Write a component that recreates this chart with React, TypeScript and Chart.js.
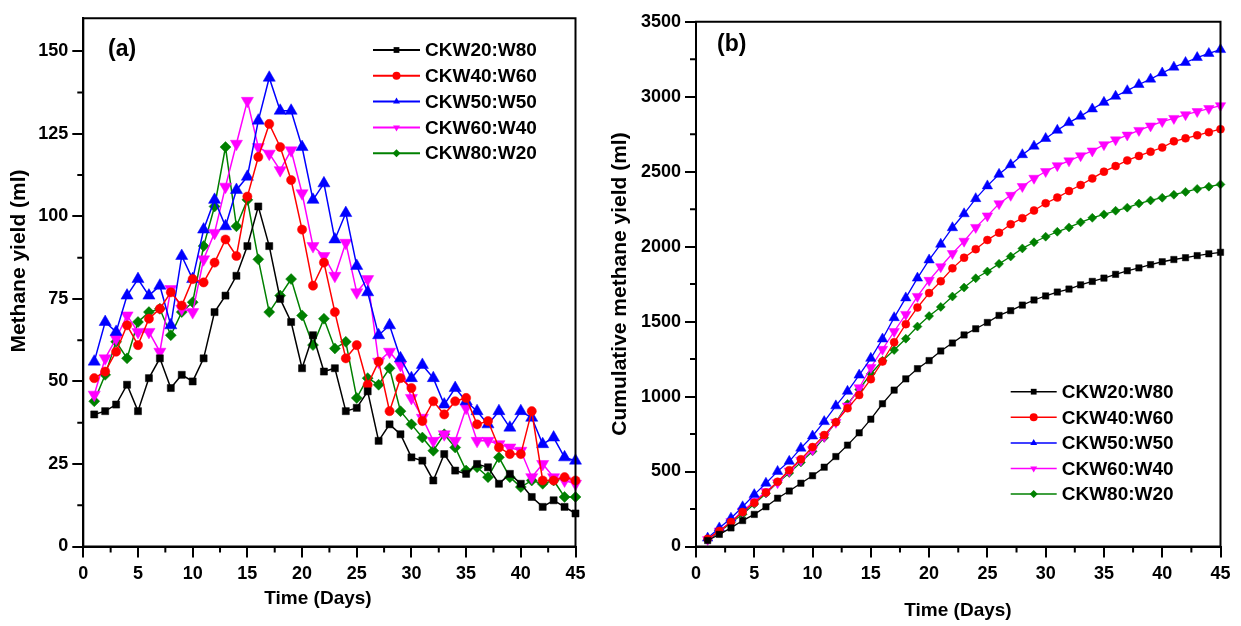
import React, { useEffect, useRef } from 'react';
import { Chart, registerables } from 'chart.js';

Chart.register(...registerables);

// ---------- data ----------
const days = [1, 2, 3, 4, 5, 6, 7, 8, 9, 10, 11, 12, 13, 14, 15, 16, 17, 18, 19, 20, 21, 22, 23, 24, 25, 26, 27, 28, 29, 30, 31, 32, 33, 34, 35, 36, 37, 38, 39, 40, 41, 42, 43, 44, 45];
const seriesNames = ['CKW20:W80', 'CKW40:W60', 'CKW50:W50', 'CKW60:W40', 'CKW80:W20'];

// (a) daily methane yield (ml)
const daily20 = [40, 41, 43, 49, 41, 51, 57, 48, 52, 50, 57, 71, 76, 82, 91, 103, 91, 75, 68, 54, 64, 53, 54, 41, 42, 47, 32, 37, 34, 27, 26, 20, 28, 23, 22, 25, 24, 19, 22, 19, 15, 12, 14, 12, 10];
const daily40 = [51, 53, 59, 67, 61, 69, 72, 77, 73, 81, 80, 86, 93, 88, 106, 118, 128, 121, 111, 96, 79, 86, 71, 57, 61, 49, 56, 41, 51, 48, 38, 44, 40, 44, 45, 37, 38, 30, 28, 28, 41, 20, 20, 21, 20];
const daily50 = [56, 68, 65, 76, 81, 76, 79, 67, 88, 81, 96, 105, 97, 108, 112, 129, 142, 132, 132, 121, 105, 110, 93, 101, 85, 77, 64, 67, 57, 51, 55, 51, 43, 48, 44, 41, 37, 41, 36, 41, 39, 31, 33, 27, 26];
const daily60 = [46, 57, 63, 70, 65, 65, 59, 78, 72, 71, 87, 95, 109, 122, 135, 121, 119, 114, 120, 107, 91, 88, 82, 92, 77, 81, 56, 59, 55, 45, 39, 32, 34, 32, 42, 32, 32, 31, 30, 29, 21, 25, 21, 20, 19];
const daily80 = [44, 52, 62, 57, 68, 71, 72, 64, 71, 74, 91, 103, 121, 97, 105, 87, 71, 76, 81, 70, 61, 69, 60, 62, 45, 51, 49, 54, 41, 37, 33, 29, 34, 30, 23, 24, 21, 27, 21, 18, 20, 19, 20, 15, 15];

// (b) cumulative methane yield (ml)
const cum20 = [40, 81, 124, 173, 214, 265, 322, 370, 422, 472, 529, 600, 676, 758, 849, 952, 1043, 1118, 1186, 1240, 1304, 1357, 1411, 1452, 1494, 1541, 1573, 1610, 1644, 1671, 1697, 1717, 1745, 1768, 1790, 1815, 1839, 1858, 1880, 1899, 1914, 1926, 1940, 1952, 1962];
const cum40 = [51, 104, 163, 230, 291, 360, 432, 509, 582, 663, 743, 829, 922, 1010, 1116, 1234, 1362, 1483, 1594, 1690, 1769, 1855, 1926, 1983, 2044, 2093, 2149, 2190, 2241, 2289, 2327, 2371, 2411, 2455, 2500, 2537, 2575, 2605, 2633, 2661, 2702, 2722, 2742, 2763, 2783];
const cum50 = [56, 124, 189, 265, 346, 422, 501, 568, 656, 737, 833, 938, 1035, 1143, 1255, 1384, 1526, 1658, 1790, 1911, 2016, 2126, 2219, 2320, 2405, 2482, 2546, 2613, 2670, 2721, 2776, 2827, 2870, 2918, 2962, 3003, 3040, 3081, 3117, 3158, 3197, 3228, 3261, 3288, 3314];
const cum60 = [46, 103, 166, 236, 301, 366, 425, 503, 575, 646, 733, 828, 937, 1059, 1194, 1315, 1434, 1548, 1668, 1775, 1866, 1954, 2036, 2128, 2205, 2286, 2342, 2401, 2456, 2501, 2540, 2572, 2606, 2638, 2680, 2712, 2744, 2775, 2805, 2834, 2855, 2880, 2901, 2921, 2940];
const cum80 = [44, 96, 158, 215, 283, 354, 426, 490, 561, 635, 726, 829, 950, 1047, 1152, 1239, 1310, 1386, 1467, 1537, 1598, 1667, 1727, 1789, 1834, 1885, 1934, 1988, 2029, 2066, 2099, 2128, 2162, 2192, 2215, 2239, 2260, 2287, 2308, 2326, 2346, 2365, 2385, 2400, 2415];

// ticks
const xMajorTicks = [0, 5, 10, 15, 20, 25, 30, 35, 40, 45];
const xMinorTicks = [2.5, 7.5, 12.5, 17.5, 22.5, 27.5, 32.5, 37.5, 42.5];
const yMajorTicksA = [0, 25, 50, 75, 100, 125, 150];
const yMinorTicksA = [12.5, 37.5, 62.5, 87.5, 112.5, 137.5];
const yMajorTicksB = [0, 500, 1000, 1500, 2000, 2500, 3000, 3500];
const yMinorTicksB = [250, 750, 1250, 1750, 2250, 2750, 3250];

// ---------- styles ----------
const FONT = "'Liberation Sans', Arial, Helvetica, sans-serif";
const colors = ['#000000', '#ff0000', '#0000ff', '#ff00ff', '#008000'];
const pointStyles = ['rect', 'circle', 'triangle', 'triangle', 'rectRot'];
const rotations = [0, 0, 0, 180, 0];

function drawMarker(ctx: CanvasRenderingContext2D, style: string, rot: number, x: number, y: number, r: number, color: string) {
  ctx.fillStyle = color;
  ctx.beginPath();
  if (style === 'rect') {
    const s = r * 0.72;
    ctx.rect(x - s, y - s, 2 * s, 2 * s);
  } else if (style === 'circle') {
    ctx.arc(x, y, r, 0, Math.PI * 2);
  } else if (style === 'triangle') {
    const d = rot === 180 ? -1 : 1;
    ctx.moveTo(x, y - d * r);
    ctx.lineTo(x + r * 0.866, y + d * r * 0.5);
    ctx.lineTo(x - r * 0.866, y + d * r * 0.5);
    ctx.closePath();
  } else {
    ctx.moveTo(x, y - r);
    ctx.lineTo(x + r, y);
    ctx.lineTo(x, y + r);
    ctx.lineTo(x - r, y);
    ctx.closePath();
  }
  ctx.fill();
}

const decorPlugin = {
  id: 'decor',
  afterDraw(chart: any, _args: any, opts: any) {
    const ctx: CanvasRenderingContext2D = chart.ctx;
    const { left, right, top, bottom } = chart.chartArea;
    const xs = chart.scales.x;
    const ys = chart.scales.y;
    ctx.save();
    // frame
    ctx.strokeStyle = '#000';
    ctx.lineWidth = 2;
    ctx.beginPath();
    ctx.rect(left, top, right - left, bottom - top);
    ctx.stroke();
    // minor ticks
    ctx.lineWidth = 2;
    ctx.beginPath();
    opts.xMinor.forEach((v: number) => {
      const px = xs.getPixelForValue(v);
      ctx.moveTo(px, bottom);
      ctx.lineTo(px, bottom + 6);
    });
    opts.yMinor.forEach((v: number) => {
      const py = ys.getPixelForValue(v);
      ctx.moveTo(left, py);
      ctx.lineTo(left - 6, py);
    });
    ctx.stroke();

    // panel label
    ctx.fillStyle = '#000';
    ctx.font = `bold 23px ${FONT}`;
    ctx.textAlign = 'left';
    ctx.textBaseline = 'middle';
    ctx.fillText(opts.panel.text, opts.panel.x, opts.panel.y);

    // axis titles
    ctx.font = `bold 19px ${FONT}`;
    ctx.textAlign = 'center';
    ctx.fillText(opts.xTitle.text, opts.xTitle.x, opts.xTitle.y);
    ctx.save();
    ctx.translate(opts.yTitle.x, opts.yTitle.y);
    ctx.rotate(-Math.PI / 2);
    ctx.font = `bold ${opts.yTitle.size}px ${FONT}`;
    ctx.fillText(opts.yTitle.text, 0, 0);
    ctx.restore();

    // legend
    const lg = opts.legend;
    ctx.font = `bold 19px ${FONT}`;
    ctx.textAlign = 'left';
    ctx.textBaseline = 'middle';
    chart.data.datasets.forEach((ds: any, i: number) => {
      const y = lg.y + i * lg.spacing;
      ctx.strokeStyle = ds.borderColor;
      ctx.lineWidth = lg.lineWidth;
      ctx.beginPath();
      ctx.moveTo(lg.x, y);
      ctx.lineTo(lg.x + lg.lineLen, y);
      ctx.stroke();
      drawMarker(ctx, ds.pointStyle, ds.rotation || 0, lg.x + lg.lineLen / 2, y, lg.markerR, ds.borderColor);
      ctx.fillStyle = '#000';
      ctx.fillText(ds.label, lg.x + lg.lineLen + 5, y + 1);
    });
    ctx.restore();
  },
};

function makeDatasets(series: number[][], radii: number[], lineWidth: number) {
  return series.map((vals, i) => ({
    label: seriesNames[i],
    data: days.map((d, j) => ({ x: d, y: vals[j] })),
    borderColor: colors[i],
    backgroundColor: colors[i],
    pointBackgroundColor: colors[i],
    pointBorderColor: colors[i],
    pointBorderWidth: 0.5,
    pointStyle: pointStyles[i],
    rotation: rotations[i],
    pointRadius: radii[i],
    borderWidth: lineWidth,
    tension: 0,
    clip: false,
  }));
}

function makeConfig(opts: {
  series: number[][];
  radii: number[];
  lineWidth: number;
  yMax: number;
  yMajor: number[];
  yMinor: number[];
  yAxisWidth: number;
  padding: any;
  decor: any;
}) {
  const tickFont = { family: FONT, size: 18, weight: 'bold' as const };
  return {
    type: 'line' as const,
    data: { datasets: makeDatasets(opts.series, opts.radii, opts.lineWidth) },
    plugins: [decorPlugin],
    options: {
      animation: false,
      responsive: true,
      maintainAspectRatio: false,
      events: [],
      layout: { padding: opts.padding },
      plugins: {
        legend: { display: false },
        tooltip: { enabled: false },
        decor: opts.decor,
      },
      scales: {
        x: {
          type: 'linear',
          min: 0,
          max: 45,
          afterBuildTicks: (s: any) => {
            s.ticks = xMajorTicks.map((v) => ({ value: v }));
          },
          afterFit: (s: any) => {
            s.height = 79.5;
          },
          ticks: { font: tickFont, color: '#000', padding: 6, maxRotation: 0, autoSkip: false, callback: (v: any) => String(v) },
          grid: { display: true, drawOnChartArea: false, drawTicks: true, tickLength: 11, color: '#000', lineWidth: 2 },
          border: { display: true, color: '#000', width: 2 },
        },
        y: {
          type: 'linear',
          min: 0,
          max: opts.yMax,
          afterBuildTicks: (s: any) => {
            s.ticks = opts.yMajor.map((v) => ({ value: v }));
          },
          afterFit: (s: any) => {
            s.width = opts.yAxisWidth;
          },
          ticks: { font: tickFont, color: '#000', padding: 4, autoSkip: false, callback: (v: any) => String(v) },
          grid: { display: true, drawOnChartArea: false, drawTicks: true, tickLength: 11, color: '#000', lineWidth: 2 },
          border: { display: true, color: '#000', width: 2 },
        },
      },
    },
  };
}

function Panel({ config, style }: { config: () => any; style: React.CSSProperties }) {
  const ref = useRef<HTMLCanvasElement | null>(null);
  useEffect(() => {
    if (!ref.current) return;
    const chart = new Chart(ref.current, config());
    return () => chart.destroy();
  }, []);
  return (
    <div style={style}>
      <canvas ref={ref} />
    </div>
  );
}

const configA = () =>
  makeConfig({
    series: [daily20, daily40, daily50, daily60, daily80],
    radii: [5, 4.6, 7, 7, 5.5],
    lineWidth: 1.5,
    yMax: 160,
    yMajor: yMajorTicksA,
    yMinor: yMinorTicksA,
    yAxisWidth: 83.3,
    padding: { left: 0, right: 24.5, top: 18.3, bottom: 0 },
    decor: {
      xMinor: xMinorTicks,
      yMinor: yMinorTicksA,
      panel: { text: '(a)', x: 108, y: 50 },
      xTitle: { text: 'Time (Days)', x: 318, y: 599 },
      yTitle: { text: 'Methane yield (ml)', x: 19, y: 261, size: 21 },
      legend: { x: 373, y: 50, spacing: 25.8, lineLen: 47, lineWidth: 2, markerR: 4 },
    },
  });

const configB = () =>
  makeConfig({
    series: [cum20, cum40, cum50, cum60, cum80],
    radii: [4.5, 4, 6, 6, 4.5],
    lineWidth: 1.3,
    yMax: 3500,
    yMajor: yMajorTicksB,
    yMinor: yMinorTicksB,
    yAxisWidth: 96,
    padding: { left: 0, right: 20.5, top: 21.7, bottom: 0 },
    decor: {
      xMinor: xMinorTicks,
      yMinor: yMinorTicksB,
      panel: { text: '(b)', x: 117, y: 45 },
      xTitle: { text: 'Time (Days)', x: 358, y: 611 },
      yTitle: { text: 'Cumulative methane yield (ml)', x: 20, y: 284, size: 21 },
      legend: { x: 410.7, y: 391.7, spacing: 25.6, lineLen: 46, lineWidth: 1.5, markerR: 4 },
    },
  });

export default function App() {
  return (
    <div style={{ position: 'absolute', left: 0, top: 0, width: 1241, height: 626, background: '#fff' }}>
      <Panel config={configA} style={{ position: 'absolute', left: 0, top: 0, width: 600, height: 626 }} />
      <Panel config={configB} style={{ position: 'absolute', left: 600, top: 0, width: 641, height: 626 }} />
    </div>
  );
}
